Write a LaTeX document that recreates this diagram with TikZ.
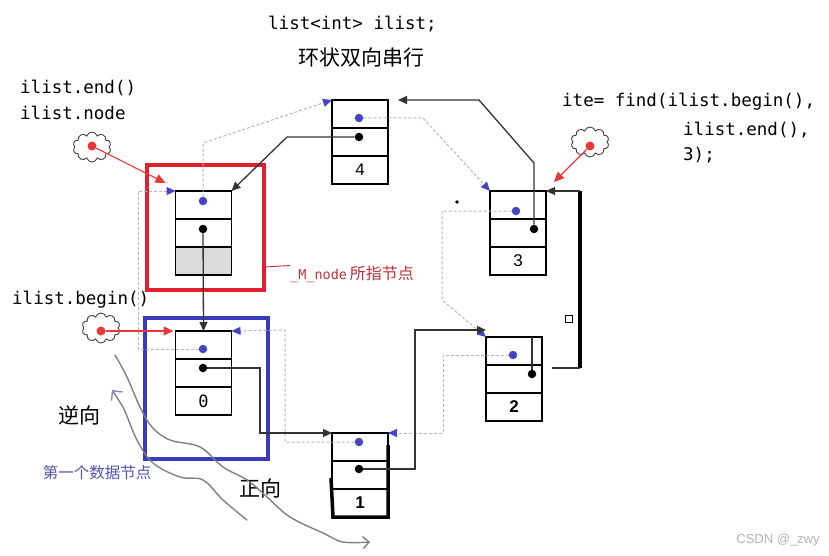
\documentclass[tikz,border=0pt]{standalone}
\usepackage{fontspec}
\setmainfont{Liberation Sans}
\setmonofont{DejaVu Sans Mono}
\newfontfamily\cjk{Noto Sans CJK SC}
\usepackage{tikz}
\usetikzlibrary{positioning,arrows.meta,shapes.symbols}
\definecolor{dotblue}{HTML}{4444C4}
\definecolor{prevgray}{HTML}{B4B4D2}
\definecolor{redbox}{HTML}{E0202C}
\definecolor{bluebox}{HTML}{3A3ABE}
\definecolor{labred}{HTML}{C0303A}
\definecolor{labblue}{HTML}{5252B4}
\definecolor{ptrred}{HTML}{E83838}
\tikzset{
  cell/.style={rectangle, draw, line width=1.6pt, minimum width=56pt, minimum height=28pt, inner sep=0pt, outer sep=0pt, font=\fontsize{17}{17}\selectfont},
  bdot/.style={circle, fill=dotblue, inner sep=0pt, minimum size=8.5pt},
  kdot/.style={circle, fill=black, inner sep=0pt, minimum size=8.5pt},
  fwd/.style={-{Triangle[length=9pt,width=8pt]}, line width=1.3pt, draw=black!80},
  prev/.style={-{Triangle[length=9pt,width=8pt,color=dotblue]}, dash pattern=on 3pt off 2pt, line width=1pt, draw=prevgray},
  redptr/.style={-{Triangle[length=10pt,width=9pt]}, line width=1.1pt, draw=ptrred, color=ptrred},
  itcloud/.style={cloud, cloud puffs=10, cloud ignores aspect, draw=black!75, line width=0.9pt, minimum width=38pt, minimum height=30pt, inner sep=0pt},
  rdot/.style={circle, fill=ptrred, inner sep=0pt, minimum size=9pt},
  hlbox/.style={rectangle, line width=3.2pt, inner sep=0pt},
  code/.style={inner sep=0pt, anchor=west, font=\ttfamily\fontsize{17.5}{20}\selectfont},
  cjktext/.style={inner sep=0pt, font=\cjk\fontsize{21}{24}\selectfont},
  wavy/.style={draw=black!50, line width=1.4pt, line cap=round},
}

\begin{document}
\begin{tikzpicture}[x=1pt,y=-1pt]
  \useasboundingbox (0,0) rectangle (829,556);

  % highlight boxes
  \node[hlbox, draw=redbox, minimum width=117pt, minimum height=125pt] (mbox) at (205.5,227.5) {};
  \node[hlbox, draw=bluebox, minimum width=123pt, minimum height=141pt] (fbox) at (206.5,388.5) {};

  % list nodes
  \node[cell] (tophd) at (203.5,205) {};
  \node[cell, below=0pt of tophd] (midhd) {};
  \node[cell, fill=black!14, below=0pt of midhd] (valhd) {};

  \node[cell] (top0) at (203.5,345) {};
  \node[cell, below=0pt of top0] (mid0) {};
  \node[cell, below=0pt of mid0] (val0) {\ttfamily 0};

  \node[cell] (top4) at (360,114) {};
  \node[cell, below=0pt of top4] (mid4) {};
  \node[cell, below=0pt of mid4] (val4) {4};

  \node[cell] (top3) at (518,205) {};
  \node[cell, below=0pt of top3] (mid3) {};
  \node[cell, below=0pt of mid3] (val3) {3};

  \node[cell] (top2) at (514,351) {};
  \node[cell, below=0pt of top2] (mid2) {};
  \node[cell, below=0pt of mid2] (val2) {\textbf{2}};

  \node[cell] (top1) at (360,447) {};
  \node[cell, below=0pt of top1] (mid1) {};
  \node[cell, below=0pt of mid1] (val1) {\textbf{1}};
  \draw[line width=3.5pt] (331,478) -- (333,517) -- (388,517) -- (388,445);

  % prev / next dots
  \node[bdot] (bdhd) at (203,201) {};
  \node[kdot] (kdhd) at (203,229) {};
  \node[bdot] (bd0) at (203,349) {};
  \node[kdot] (kd0) at (203,368) {};
  \node[bdot] (bd4) at (359,118) {};
  \node[kdot] (kd4) at (359,137) {};
  \node[bdot] (bd3) at (516,211) {};
  \node[kdot] (kd3) at (534,229) {};
  \node[bdot] (bd2) at (513,355) {};
  \node[kdot] (kd2) at (532,374) {};
  \node[bdot] (bd1) at (359,442) {};
  \node[kdot] (kd1) at (359,469) {};

  % prev links
  \draw[prev] (bdhd) -- (203,143) -- (top4.north west);
  \draw[prev] (bd4) -- (423,118) -- (top3.north west);
  \draw[prev] (bd3) -- (442,211) -- (442,300) -- (top2.north west);
  \draw[prev] (bd2) -| (443,433) -- (top1.north east);
  \draw[prev] (bd1) -| (285,330) -- (top0.north east);
  \draw[prev] (bd0) -| (138,191) -- (tophd.north west);

  % next links
  \draw[fwd] (kdhd) -- (top0.north);
  \draw[fwd] (kd0) -| (260,433) -- (top1.north west);
  \draw[fwd] (kd1) -| (415,330) -- ([yshift=7pt]top2.north west);
  \draw[line width=1.3pt, draw=black!80] (kd2) -- (kd2 |- top2.north);
  \coordinate (bend2) at (580,368);
  \coordinate (bend3) at (580,191);
  \draw[line width=1.3pt, draw=black!80] (552,368) -- (bend2);
  \draw[line width=4pt] (bend2) -- (bend3);
  \draw[fwd] (bend3) -- (top3.north east);
  \draw[fwd] (kd3) -- (534,163) -- (479,100) -- ([xshift=10pt]top4.north east);
  \draw[fwd] (kd4) -- (287,137) -- (tophd.north east);

  % iterators
  \node[itcloud] (endit) at (92,147) {};
  \node[rdot] (enddot) at (92,146) {};
  \draw[redptr] (enddot) -- ([xshift=-10pt,yshift=8pt]tophd.north west);
  \node[itcloud] (begit) at (101,328) {};
  \node[rdot] (begdot) at (101,331) {};
  \draw[redptr] (begdot) -- ([xshift=-2pt]top0.north west);
  \node[itcloud] (findit) at (590,142) {};
  \node[rdot] (finddot) at (590,146) {};
  \draw[redptr] (finddot) -- ([xshift=8pt,yshift=9pt]top3.north east);

  % labels
  \node[code] (decl) at (268,24) {list<int> ilist;};
  \node[cjktext] (title) at (361.5,58) {环状双向串行};
  \node[code] (endtxt) at (20,88) {ilist.end()};
  \node[code] (nodetxt) at (20,113) {ilist.node};
  \node[code] (begtxt) at (12,300) {ilist.begin()};
  \node[code] (find1) at (562,102) {ite= find(ilist.begin(),};
  \node[code] (find2) at (683,130) {ilist.end(),};
  \node[code] (find3) at (683,155) {3);};
  \node[inner sep=0pt, anchor=west, text=labred] (mlab) at (290,274)
    {{\ttfamily\fontsize{13.5}{15}\selectfont \_M\_node} {\cjk\fontsize{16}{18}\selectfont 所指节点}};
  \draw[labred, line width=0.9pt] (mbox.east |- 0,267) -- (mlab.north west);
  \node[cjktext] (backlab) at (79,415) {逆向};
  \node[cjktext] (fwdlab) at (260,488) {正向};
  \node[inner sep=0pt, text=labblue, font=\cjk\fontsize{15.5}{18}\selectfont] (firstlab) at (97,473) {第一个数据节点};
  \node[inner sep=0pt, text=black!30, font=\fontsize{13}{15}\selectfont] (mark) at (778,540) {CSDN @\_zwy};

  % hand-drawn directions
  \draw[wavy, -{Straight Barb[length=6pt]}] plot[smooth, tension=0.6] coordinates
    {(115,355) (127,377) (140,407) (152,427) (170,440) (200,447) (223,467) (247,480) (267,497) (290,517) (323,533) (343,542) (370,542)};
  \draw[wavy, {Straight Barb[length=7pt,color=labblue!70]}-] plot[smooth, tension=0.6] coordinates
    {(112,390) (123,407) (137,440) (153,463) (180,477) (203,480) (223,500) (247,520)};

  % stray marks
  \fill (457,202) circle (1.8);
  \draw[line width=0.8pt] (565,315) rectangle (572,322);
\end{tikzpicture}
\end{document}
